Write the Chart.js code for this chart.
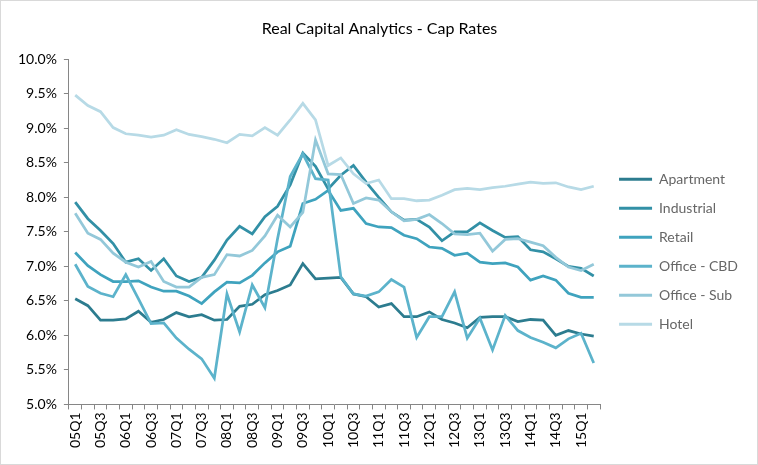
<!DOCTYPE html>
<html>
<head>
<meta charset="utf-8">
<script src="https://cdn.jsdelivr.net/npm/chart.js@4.4.1/dist/chart.umd.min.js"></script>
<style>
  body { margin: 0; background: #fff; }
  #wrap { width: 756px; height: 463px; border: 1px solid #d9d9d9; }
</style>
</head>
<body>
<div id="wrap"><canvas id="capRates" width="756" height="463"></canvas></div>
<script>
const quarters = [
  '05Q1','05Q2','05Q3','05Q4','06Q1','06Q2','06Q3','06Q4','07Q1','07Q2','07Q3','07Q4',
  '08Q1','08Q2','08Q3','08Q4','09Q1','09Q2','09Q3','09Q4','10Q1','10Q2','10Q3','10Q4',
  '11Q1','11Q2','11Q3','11Q4','12Q1','12Q2','12Q3','12Q4','13Q1','13Q2','13Q3','13Q4',
  '14Q1','14Q2','14Q3','14Q4','15Q1','15Q2'
]

const apartment = [6.53, 6.43, 6.22, 6.22, 6.24, 6.35, 6.19, 6.23, 6.33, 6.27, 6.30, 6.22,
  6.23, 6.42, 6.45, 6.59, 6.65, 6.73, 7.04, 6.82, 6.83, 6.84, 6.60, 6.56,
  6.41, 6.46, 6.27, 6.27, 6.34, 6.23, 6.18, 6.11, 6.26, 6.27, 6.27, 6.20,
  6.23, 6.22, 6.00, 6.07, 6.02, 5.99]
const industrial = [7.93, 7.69, 7.52, 7.33, 7.06, 7.11, 6.94, 7.11, 6.86, 6.78, 6.84, 7.09,
  7.38, 7.58, 7.47, 7.72, 7.87, 8.18, 8.64, 8.45, 8.12, 8.32, 8.46, 8.22,
  8.00, 7.79, 7.67, 7.68, 7.57, 7.37, 7.50, 7.50, 7.63, 7.52, 7.42, 7.43,
  7.24, 7.21, 7.11, 7.00, 6.97, 6.86]
const retail = [7.20, 7.01, 6.88, 6.78, 6.78, 6.79, 6.70, 6.64, 6.64, 6.57, 6.46, 6.63,
  6.77, 6.76, 6.87, 7.05, 7.21, 7.29, 7.91, 7.97, 8.10, 7.81, 7.84, 7.62,
  7.57, 7.56, 7.45, 7.40, 7.28, 7.26, 7.16, 7.19, 7.06, 7.04, 7.05, 6.99,
  6.80, 6.86, 6.80, 6.61, 6.55, 6.55]
const officeCbd = [7.03, 6.71, 6.61, 6.56, 6.88, 6.53, 6.17, 6.18, 5.96, 5.80, 5.66, 5.38,
  6.60, 6.05, 6.73, 6.40, 7.40, 8.30, 8.63, 8.27, 8.25, 6.85, 6.60, 6.57,
  6.63, 6.81, 6.70, 5.97, 6.27, 6.27, 6.63, 5.96, 6.25, 5.79, 6.29, 6.07,
  5.97, 5.90, 5.82, 5.95, 6.03, 5.60]
const officeSub = [7.77, 7.48, 7.39, 7.19, 7.06, 6.99, 7.07, 6.78, 6.70, 6.70, 6.84, 6.88,
  7.17, 7.15, 7.23, 7.44, 7.74, 7.57, 7.78, 8.83, 8.34, 8.33, 7.91, 7.99,
  7.96, 7.79, 7.66, 7.68, 7.75, 7.62, 7.47, 7.46, 7.48, 7.22, 7.39, 7.40,
  7.35, 7.30, 7.13, 6.99, 6.94, 7.03]
const hotel = [9.48, 9.33, 9.24, 9.01, 8.92, 8.90, 8.87, 8.90, 8.98, 8.91, 8.88, 8.84,
  8.79, 8.91, 8.89, 9.01, 8.90, 9.12, 9.36, 9.12, 8.46, 8.57, 8.34, 8.20,
  8.25, 7.98, 7.98, 7.95, 7.96, 8.03, 8.11, 8.13, 8.11, 8.14, 8.16, 8.19,
  8.22, 8.20, 8.21, 8.15, 8.11, 8.16]

const seriesNames = ['Apartment', 'Industrial', 'Retail', 'Office - CBD', 'Office - Sub', 'Hotel']
const seriesData = [apartment, industrial, retail, officeCbd, officeSub, hotel]
const seriesColors = ['#2c7c8f', '#3290a6', '#3fa3be', '#5cb3cb', '#93c8d9', '#b7dae6']

const font = 'Lato, "Liberation Sans", sans-serif'

const datasets = seriesNames.map((name, i) => ({
  label: name,
  data: seriesData[i],
  borderColor: seriesColors[i],
  backgroundColor: seriesColors[i],
  borderWidth: 2.75,
  pointRadius: 0,
  tension: 0,
  fill: false,
  order: seriesNames.length - i
}))

const ctx = document.getElementById('capRates').getContext('2d')

const myChart = new Chart(ctx, {
  type: 'line',
  data: { labels: quarters, datasets: datasets },
  options: {
    responsive: false,
    animation: false,
    layout: { padding: { left: 10, right: 9, top: 0, bottom: 13 } },
    plugins: {
      title: {
        display: true,
        text: 'Real Capital Analytics - Cap Rates',
        color: '#000',
        font: { family: font, size: 16, weight: 'normal', lineHeight: 1.2 },
        padding: { top: 18, bottom: 21 }
      },
      legend: {
        position: 'right',
        fullSize: false,
        maxWidth: 220,
        // blank title only pushes the entries down
        title: { display: true, text: ' ', font: { size: 10, lineHeight: 1 }, padding: { top: 15, bottom: 15 } },
        labels: {
          boxWidth: 33,
          boxHeight: 3,
          padding: 15,
          color: '#000',
          font: { family: font, size: 14 },
          generateLabels: chart => chart.data.datasets.map((ds, i) => ({
            text: ds.label,
            fillStyle: ds.borderColor,
            strokeStyle: ds.borderColor,
            lineWidth: 0,
            hidden: false,
            datasetIndex: i
          }))
        }
      },
      tooltip: { enabled: false }
    },
    scales: {
      x: {
        offset: true,
        grid: { offset: true, drawOnChartArea: false, drawTicks: true, tickLength: 5, color: '#868686' },
        border: { color: '#868686' },
        ticks: {
          autoSkip: false,
          maxRotation: 90,
          minRotation: 90,
          padding: 3,
          color: '#000',
          font: { family: font, size: 14 },
          callback: (val, idx) => idx % 2 === 0 ? quarters[idx] : ''
        }
      },
      y: {
        min: 5,
        max: 10,
        grid: { drawOnChartArea: false, drawTicks: true, tickLength: 5, color: '#868686' },
        border: { color: '#868686' },
        ticks: {
          stepSize: 0.5,
          padding: 7,
          color: '#000',
          font: { family: font, size: 14 },
          callback: v => v.toFixed(1) + '%'
        }
      },
      // empty axis, keeps a small gap between plot and legend
      gap: {
        position: 'right',
        display: true,
        grid: { display: false },
        border: { display: false },
        ticks: { display: false },
        afterFit: scale => { scale.width = 4 }
      }
    }
  }
})
</script>
</body>
</html>
